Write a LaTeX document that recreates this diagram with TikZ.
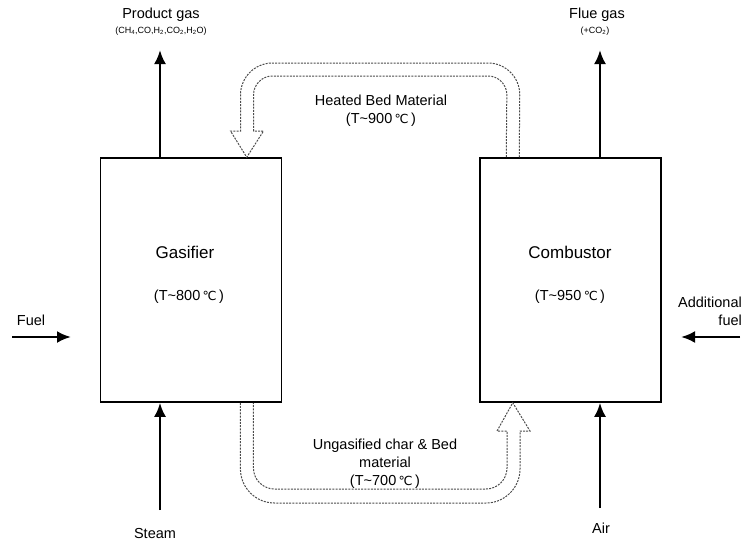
\documentclass[tikz,border=0pt]{standalone}
\usepackage{fontspec}
\setmainfont{Liberation Sans}
\newfontfamily\dejavu{DejaVu Sans}
\usetikzlibrary{arrows.meta,calc}
\newcommand{\degc}{{\dejavu\fontsize{12.5}{15}\selectfont\char"2103}}
\tikzstyle{block} = [rectangle, draw, line width=1.5pt, 
    minimum width=181pt, minimum height=244pt, inner sep=0pt]
\tikzstyle{title} = [font=\fontsize{17}{20}\selectfont, inner sep=0pt]
\tikzstyle{tag} = [font=\fontsize{14.5}{18}\selectfont, inner sep=0pt, align=center]
\tikzstyle{small} = [font=\fontsize{9}{10}\selectfont, inner sep=0pt]
\tikzstyle{line} = [draw, line width=2.6pt, -{Latex[length=14pt,width=12pt]}]
\tikzstyle{hollow} = [draw=black!70, line width=1pt, dash pattern=on 2pt off 1.2pt]

\begin{document}
\begin{tikzpicture}[x=1pt, y=-1pt, auto]
    \useasboundingbox (0,0) rectangle (751,543);
    % Place nodes
    \node [block] (gas) at (191,280) {};
    \node [block] (comb) at (570.5,280) {};
    \node [title] (gastitle) at (185,252) {Gasifier};
    \node [tag] (gastemp) at (189,297) {(T\textasciitilde800\,\degc\,)};
    \node [title] (combtitle) at (570,252) {Combustor};
    \node [tag] (combtemp) at (570,297) {(T\textasciitilde950\,\degc\,)};
    \node [tag] (prod) at (161,15) {Product gas};
    \node [small] (prodmix) at (161,31) {(CH\textsubscript{4},CO,H\textsubscript{2},CO\textsubscript{2},H\textsubscript{2}O)};
    \node [tag] (flue) at (597,15) {Flue gas};
    \node [small] (fluemix) at (595,31) {(+CO\textsubscript{2})};
    \node [tag] (fuel) at (31,320) {Fuel};
    \node [tag, align=right] (addfuel) at (710,311) {Additional\\fuel};
    \node [tag] (steam) at (155,533) {Steam};
    \node [tag] (air) at (601,528) {Air};
    \node [tag] (heated) at (381,111) {Heated Bed Material\\(T\textasciitilde900\,\degc\,)};
    \node [tag] (ungas) at (385,464) {Ungasified char \& Bed\\material\\(T\textasciitilde700\,\degc\,)};
    \coordinate (prodtip) at (160,50);
    \coordinate (fluetip) at (600,50);
    \coordinate (fuelin) at (12,337);
    \coordinate (fueltip) at (71,337);
    \coordinate (addin) at (740,337);
    \coordinate (addtip) at (681,337);
    \coordinate (steamin) at (160,510);
    \coordinate (airin) at (600,508);
    % Draw edges
    \path [line] (gas.north -| prodtip) -- (prodtip);
    \path [line] (comb.north -| fluetip) -- (fluetip);
    \path [line] (fuelin) -- (fueltip);
    \path [line] (addin) -- (addtip);
    \path [line] (steamin) -- (gas.south -| steamin);
    \path [line] (airin) -- (comb.south -| airin);
    % Bed material loop
    \path [hollow] ($(comb.north west)+(40,0)$) [rounded corners=32pt] -- (520,63) -- (240.5,63)
        [sharp corners] -- (240.5,131) -- (230.5,131) -- ($(gas.north west)+(147,0)$) -- (263.5,131)
        -- (253.5,131) [rounded corners=19pt] -- (253.5,76) -- (507,76) -- ($(comb.north west)+(27,0)$);
    \path [hollow] ($(gas.south west)+(140.5,0)$) [rounded corners=34pt] -- (240.5,503) -- (520,503)
        [sharp corners] -- (520,431) -- (530,431) -- ($(comb.south west)+(33.5,0)$) -- (497,431)
        -- (507,431) [rounded corners=21pt] -- (507,489) -- (253.5,489) -- ($(gas.south west)+(153.5,0)$);
\end{tikzpicture}
\end{document}
